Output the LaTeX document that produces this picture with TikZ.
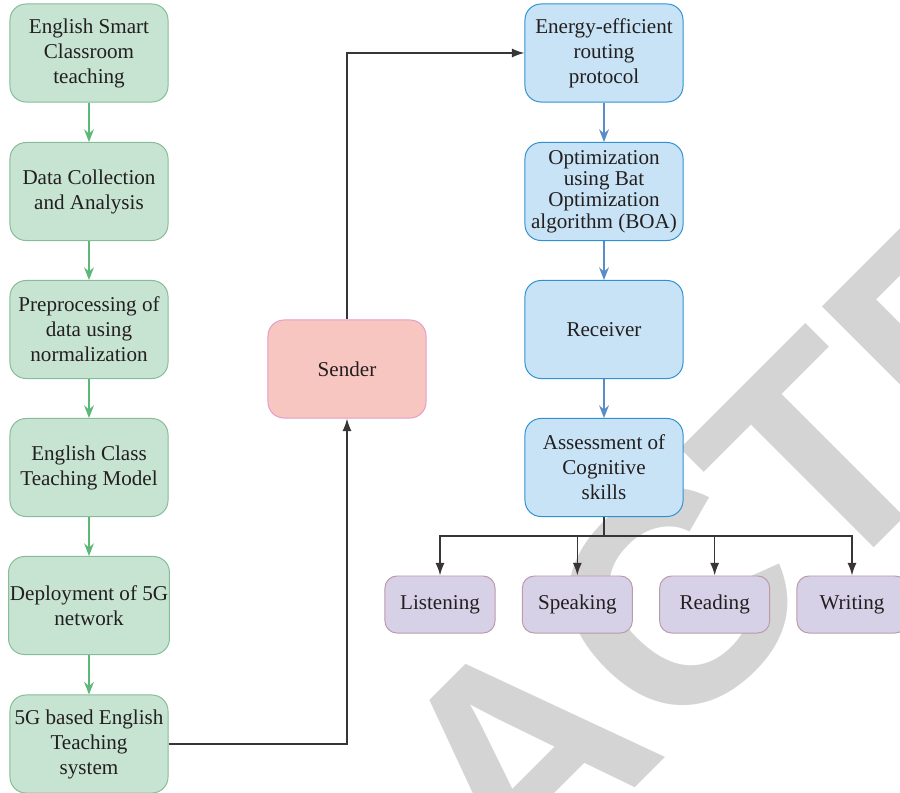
\documentclass[tikz,border=0pt]{standalone}
\usepackage{fontspec}
\setmainfont{Liberation Serif}
\newfontfamily\wmfont{Liberation Sans}
\usetikzlibrary{arrows.meta, positioning}

\definecolor{txt}{HTML}{231F20}
\definecolor{grfill}{HTML}{C6E4D1}
\definecolor{grline}{HTML}{86BC98}
\definecolor{grarrow}{HTML}{5DB878}
\definecolor{blfill}{HTML}{C9E3F6}
\definecolor{blline}{HTML}{2E92D0}
\definecolor{blarrow}{HTML}{5A8CC8}
\definecolor{pkfill}{HTML}{F8C6C1}
\definecolor{pkline}{HTML}{E59BC9}
\definecolor{ppfill}{HTML}{D6D1E7}
\definecolor{ppline}{HTML}{BC9AAA}
\definecolor{wm}{HTML}{D4D4D4}

\begin{document}
\begin{tikzpicture}[x=0.025cm, y=-0.025cm,
    box/.style={rounded corners=0.4cm, minimum width=3.95cm, minimum height=2.45cm,
        align=center, inner sep=1pt, text=txt, line width=0.7pt,
        font=\fontsize{15}{17.8}\selectfont},
    gbox/.style={box, draw=grline, fill=grfill},
    bbox/.style={box, draw=blline, fill=blfill},
    sbox/.style={box, draw=pkline, fill=pkfill},
    pbox/.style={box, draw=ppline, fill=ppfill, minimum width=2.75cm,
        minimum height=1.425cm, rounded corners=0.3cm},
    garr/.style={draw=grarrow, line width=0.9pt, -{Stealth[length=9pt, width=7pt, inset=3pt]}},
    barr/.style={draw=blarrow, line width=0.9pt, -{Stealth[length=9pt, width=7pt, inset=3pt]}},
    karr/.style={draw=txt!90, line width=1.1pt, -{Latex[length=9pt, width=6.5pt]}}]

    \useasboundingbox (0,0) rectangle (900,793);
    \clip (0,0) rectangle (900,793);

    % watermark
    \node[rotate=45, text=wm, inner sep=0pt,
        font=\wmfont\bfseries\fontsize{214}{214}\selectfont] (w) at (521,755) {RETRACTED};

    % left column
    \node[gbox] (g1) at (89,53) {English Smart\\Classroom\\teaching};
    \node[gbox] (g2) at (89,191.5) {Data Collection\\and Analysis};
    \node[gbox] (g3) at (89,329.5) {Preprocessing of\\data using\\normalization};
    \node[gbox] (g4) at (89,467.5) {English Class\\Teaching Model};
    \node[gbox] (g5) at (89,605.5) {Deployment of 5G\\network};
    \node[gbox] (g6) at (89,744) {5G based English\\Teaching\\system};

    \node[sbox] (s) at (347,369) {Sender};

    % right column
    \node[bbox] (b1) at (604,53) {Energy-efficient\\routing\\protocol};
    \node[bbox, font=\fontsize{15}{15.2}\selectfont] (b2) at (604,191.5)
        {Optimization\\using Bat\\Optimization\\algorithm (BOA)};
    \node[bbox] (b3) at (604,329.5) {Receiver};
    \node[bbox] (b4) at (604,467.5) {Assessment of\\Cognitive\\skills};

    \coordinate (split) at (604,536);

    \foreach \t [count=\i] in {Listening,Speaking,Reading,Writing} {
        \pgfmathsetmacro{\px}{440 + 137.33*(\i-1)}
        \node[pbox] (p\i) at (\px,604.5) {\t};
        \draw[karr] (split) -| (p\i.north);
    }

    \draw
    (g1) edge[garr] (g2)
    (g2) edge[garr] (g3)
    (g3) edge[garr] (g4)
    (g4) edge[garr] (g5)
    (g5) edge[garr] (g6)
    (b1) edge[barr] (b2)
    (b2) edge[barr] (b3)
    (b3) edge[barr] (b4);

    \draw[karr] (g6.east) -| (s.south);
    \draw[karr] (s.north) |- (b1.west);
    \draw[draw=txt!90, line width=1.1pt] (b4.south) -- (split);
\end{tikzpicture}
\end{document}
